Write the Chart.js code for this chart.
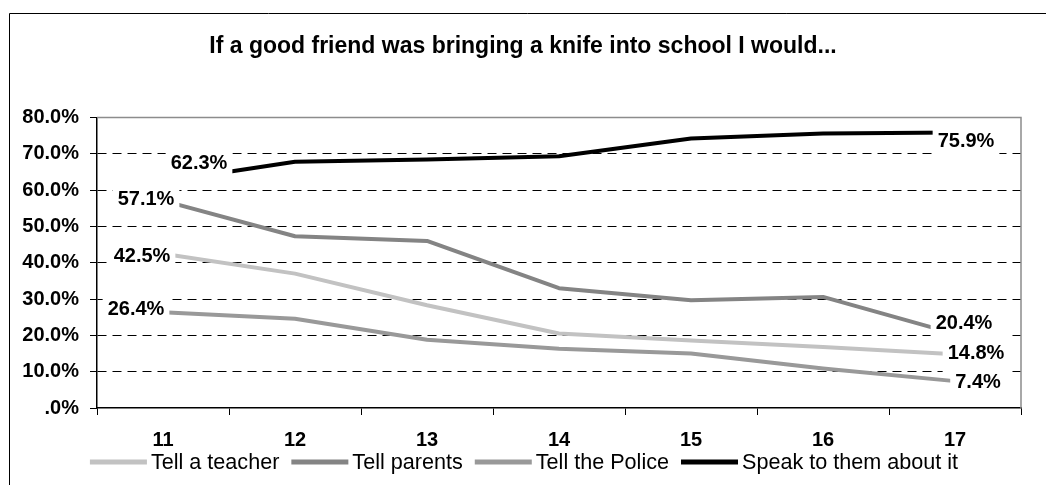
<!DOCTYPE html>
<html>
<head>
<meta charset="utf-8">
<script src="https://cdn.jsdelivr.net/npm/chart.js@4/dist/chart.umd.min.js"></script>
<style>
    body { margin: 0; background: #fff; }
    canvas { display: block; }
</style>
</head>
<body>
<canvas id="knifeChart" width="1046" height="485"></canvas>
<script>
// ages of the pupils asked
const ages = ['11', '12', '13', '14', '15', '16', '17'];

// share of pupils choosing each answer, in percent
const tellTeacher = [42.5, 37.0, 28.3, 20.5, 18.6, 16.8, 14.8];
const tellParents = [57.1, 47.3, 46.0, 33.0, 29.7, 30.6, 20.4];
const tellPolice = [26.4, 24.6, 18.8, 16.3, 15.0, 10.9, 7.4];
const speakToThem = [62.3, 67.8, 68.4, 69.3, 74.2, 75.6, 75.9];

const yTickLabels = ['.0%', '10.0%', '20.0%', '30.0%', '40.0%', '50.0%', '60.0%', '70.0%', '80.0%'];

const FONT = 'Arial, "Liberation Sans", sans-serif';

// white background, outer frame and the plot border
const frame = {
    id: 'frame',
    beforeDraw(chart) {
        const ctx = chart.ctx;
        ctx.save();
        ctx.fillStyle = '#fff';
        ctx.fillRect(0, 0, chart.width, chart.height);
        ctx.strokeStyle = '#000';
        ctx.lineWidth = 1;
        ctx.beginPath();
        ctx.moveTo(chart.width, 13.5);
        ctx.lineTo(9.5, 13.5);
        ctx.lineTo(9.5, chart.height);
        ctx.stroke();
        ctx.restore();
    },
    beforeDatasetsDraw(chart) {
        const a = chart.chartArea;
        const ctx = chart.ctx;
        ctx.save();
        ctx.strokeStyle = '#8c8c8c';
        ctx.lineWidth = 1.5;
        ctx.beginPath();
        ctx.moveTo(a.left, a.top);
        ctx.lineTo(a.right, a.top);
        ctx.lineTo(a.right, a.bottom);
        ctx.stroke();
        ctx.restore();
    }
};

// value labels on the first and last point of each line, on a white box
const endLabels = {
    id: 'endLabels',
    afterDatasetsDraw(chart, args, opts) {
        const ctx = chart.ctx;
        ctx.save();
        ctx.font = 'bold 20px ' + FONT;
        ctx.textAlign = 'center';
        ctx.textBaseline = 'middle';
        chart.data.datasets.forEach((ds, i) => {
            const meta = chart.getDatasetMeta(i);
            const offs = opts.offsets[i];
            [0, ds.data.length - 1].forEach((idx, k) => {
                const pt = meta.data[idx];
                const text = ds.data[idx].toFixed(1) + '%';
                const x = pt.x + offs[k][0];
                const y = pt.y + offs[k][1];
                const w = ctx.measureText(text).width + 10;
                ctx.fillStyle = '#fff';
                ctx.fillRect(x - w / 2, y - 21, w, 42);
                ctx.fillStyle = '#000';
                ctx.fillText(text, x, y + 1);
            });
        });
        ctx.restore();
    }
};

// one-row legend under the axis: line sample, small gap, series name
const lineLegend = {
    id: 'lineLegend',
    afterDraw(chart, args, opts) {
        const ctx = chart.ctx;
        const sample = 57, gap = 4, spacing = 12;
        ctx.save();
        ctx.font = opts.size + 'px ' + FONT;
        ctx.textBaseline = 'middle';
        ctx.textAlign = 'left';
        const items = chart.data.datasets.map(ds => ({
            ds: ds,
            w: sample + gap + ctx.measureText(ds.label).width
        }));
        const total = items.reduce((s, it) => s + it.w, 0) + spacing * (items.length - 1);
        let x = chart.width / 2 - total / 2 + 1;
        const y = opts.y;
        items.forEach(it => {
            ctx.fillStyle = it.ds.borderColor;
            ctx.fillRect(x, y - 2.5, sample, 5);
            ctx.fillStyle = '#000';
            ctx.fillText(it.ds.label, x + sample + gap, y + 1);
            x += it.w + spacing;
        });
        ctx.restore();
    }
};

function series(label, data, color) {
    return {
        label: label,
        data: data,
        borderColor: color,
        backgroundColor: color,
        borderWidth: 4,
        borderJoinStyle: 'round',
        pointRadius: 0,
        tension: 0
    };
}

new Chart(document.getElementById('knifeChart'), {
    type: 'line',
    data: {
        labels: ages,
        datasets: [
            series('Tell a teacher', tellTeacher, '#c2c2c2'),
            series('Tell parents', tellParents, '#848484'),
            series('Tell the Police', tellPolice, '#999999'),
            series('Speak to them about it', speakToThem, '#000000')
        ]
    },
    options: {
        responsive: false,
        animation: false,
        devicePixelRatio: 1,
        layout: {
            padding: { left: 10, right: 10, top: 0, bottom: 0 }
        },
        scales: {
            x: {
                offset: true,
                grid: {
                    offset: true,
                    drawOnChartArea: false,
                    tickLength: 7,
                    tickColor: '#000'
                },
                border: { color: '#000', width: 1.5 },
                ticks: {
                    color: '#000',
                    padding: 13,
                    font: { family: FONT, size: 20, weight: 'bold' }
                },
                afterFit(scale) {
                    scale.height = 77;
                }
            },
            y: {
                min: 0,
                max: 80,
                grid: {
                    color: (c) => (c.tick && (c.tick.value === 0 || c.tick.value === 80)) ? 'rgba(0,0,0,0)' : '#000',
                    tickLength: 7,
                    tickColor: '#000',
                    tickBorderDash: []
                },
                border: { color: '#000', width: 1.5, dash: [9, 6] },
                ticks: {
                    stepSize: 10,
                    color: '#000',
                    padding: 11,
                    font: { family: FONT, size: 20, weight: 'bold' },
                    callback: (value, index) => yTickLabels[index]
                },
                afterFit(scale) {
                    scale.width = 87;
                }
            },
            // empty strip on the right so the plot stops short of the frame edge
            spacer: {
                type: 'linear',
                position: 'right',
                grid: { display: false },
                border: { display: false },
                ticks: { display: false },
                afterFit(scale) {
                    scale.width = 15;
                }
            }
        },
        plugins: {
            title: {
                display: true,
                text: 'If a good friend was bringing a knife into school I would...',
                color: '#000',
                font: { family: FONT, size: 23, weight: 'bold' },
                padding: { top: 33.2, bottom: 56.7 }
            },
            legend: { display: false },
            tooltip: { enabled: false },
            lineLegend: { size: 21.6, y: 462 },
            endLabels: {
                offsets: [
                    [[-21, 2], [21, -2]],
                    [[-17, -2], [9, -11]],
                    [[-27, -4], [23, 0]],
                    [[36, -19], [11, 8]]
                ]
            }
        }
    },
    plugins: [frame, endLabels, lineLegend]
});
</script>
</body>
</html>
